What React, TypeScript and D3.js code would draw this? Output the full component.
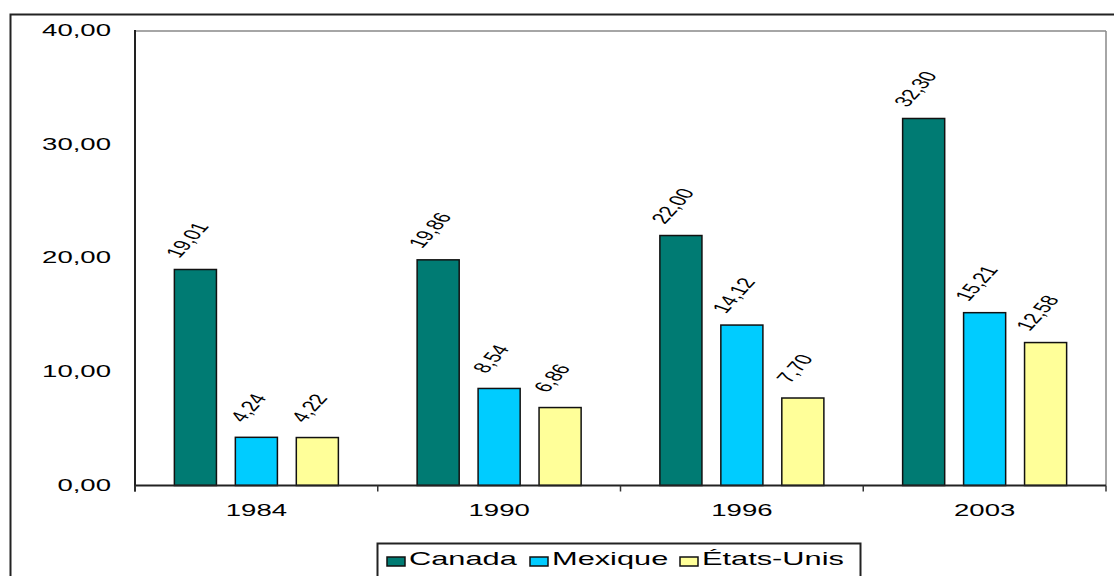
import React from "react";
import * as d3 from "d3";

const years = ["1984", "1990", "1996", "2003"];
const series = ["Canada", "Mexique", "États-Unis"];
const canada = [19.01, 19.86, 22.0, 32.3];
const mexique = [4.24, 8.54, 14.12, 15.21];
const etatsUnis = [4.22, 6.86, 7.7, 12.58];
const yTicks = [0, 10, 20, 30, 40];

const colors = ["#007B73", "#00CCFF", "#FFFF99"];
const font = "'Liberation Sans', Arial, sans-serif";
// the reference is stretched horizontally, so the text is too
const SX = 1.62;

const W = 1114;
const H = 576;
const plot = { left: 135, top: 31, right: 1106, bottom: 485.5 };
const legendX = [387, 530, 680];

const fmt = (v: number) => v.toFixed(2).replace(".", ",");

function StretchText({ x, y, size, anchor, rotate = 0, children }: any) {
  return (
    <text
      transform={`translate(${x},${y}) scale(${SX},1)${rotate ? ` rotate(${rotate})` : ""}`}
      fontFamily={font}
      fontSize={size}
      textAnchor={anchor}
      fill="#000"
    >
      {children}
    </text>
  );
}

export default function App() {
  const values = [canada, mexique, etatsUnis];

  const x0 = d3.scaleBand().domain(years).range([plot.left, plot.right]).padding(0);
  const groupW = 164;
  const x1 = d3.scaleBand().domain(series).range([0, groupW]).paddingInner(0.31);
  const y = d3.scaleLinear().domain([0, 40]).range([plot.bottom, plot.top]);

  const boundaries = [...years.map((d) => x0(d)!), plot.right];

  return (
    <div style={{ position: "absolute", left: 0, top: 0 }}>
      <svg width={W} height={H} style={{ display: "block", background: "#fff" }}>
        {/* outer frame */}
        <rect x={10.5} y={14.5} width={1300} height={800} fill="none" stroke="#222" strokeWidth={2} />

        {/* plot area border (top / right) */}
        <line x1={plot.left} x2={plot.right} y1={plot.top} y2={plot.top} stroke="#888" strokeWidth={1.5} />
        <line x1={plot.right} x2={plot.right} y1={plot.top} y2={plot.bottom} stroke="#888" strokeWidth={1.5} />

        {/* y tick labels */}
        {yTicks.map((t) => (
          <StretchText key={t} x={111} y={y(t) + 5} size={17} anchor="end">
            {fmt(t)}
          </StretchText>
        ))}

        {/* bars */}
        {years.map((yr, i) => {
          const gx = x0(yr)! + (x0.bandwidth() - groupW) / 2;
          return (
            <g key={yr}>
              {series.map((s, j) => {
                const v = values[j][i];
                const bx = gx + x1(s)!;
                const top = y(v);
                const cx = bx + x1.bandwidth() / 2;
                return (
                  <g key={s}>
                    <rect
                      x={bx}
                      y={top}
                      width={x1.bandwidth()}
                      height={plot.bottom - top}
                      fill={colors[j]}
                      stroke="#111"
                      strokeWidth={1.5}
                    />
                    <StretchText x={cx - 1} y={top - 27} size={15} anchor="middle" rotate={-60}>
                      {fmt(v)}
                    </StretchText>
                  </g>
                );
              })}
              <StretchText x={x0(yr)! + x0.bandwidth() / 2} y={516} size={17} anchor="middle">
                {yr}
              </StretchText>
            </g>
          );
        })}

        {/* axes */}
        <line x1={plot.left} x2={plot.left} y1={plot.top - 1} y2={plot.bottom + 6} stroke="#222" strokeWidth={2} />
        <line x1={plot.left} x2={plot.right} y1={plot.bottom} y2={plot.bottom} stroke="#222" strokeWidth={2} />
        {boundaries.map((bx, i) => (
          <line key={i} x1={bx} x2={bx} y1={plot.bottom} y2={plot.bottom + 6} stroke="#333" strokeWidth={1.5} />
        ))}

        {/* legend */}
        <rect x={377.5} y={543.5} width={483} height={60} fill="#fff" stroke="#222" strokeWidth={2} />
        {series.map((s, j) => (
          <g key={s}>
            <rect x={legendX[j]} y={557} width={18} height={9} fill={colors[j]} stroke="#111" strokeWidth={1.5} />
            <StretchText x={legendX[j] + 22} y={565} size={19} anchor="start">
              {s}
            </StretchText>
          </g>
        ))}
      </svg>
    </div>
  );
}
